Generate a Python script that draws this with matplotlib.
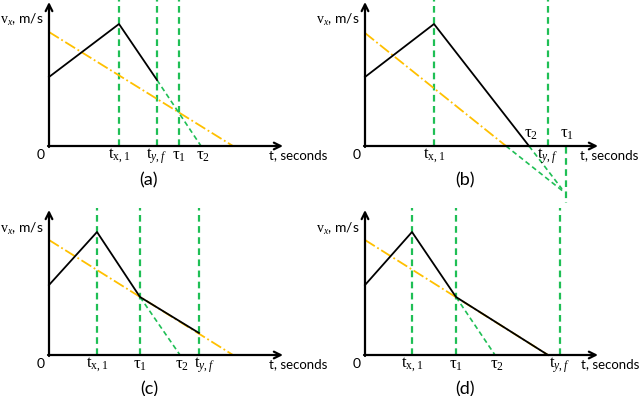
import matplotlib.pyplot as plt

plt.rcParams['font.family'] = ['Lato', 'DejaVu Sans']
plt.rcParams['mathtext.fontset'] = 'custom'
plt.rcParams['mathtext.rm'] = 'Liberation Serif'
plt.rcParams['mathtext.it'] = 'Liberation Serif:italic'
plt.rcParams['mathtext.bf'] = 'Liberation Serif:bold'

GREEN = '#1fbf55'
ORANGE = '#ffc000'

TX1 = r'$\mathrm{t}_{\mathrm{x},1}$'
TYF = r'$\mathrm{t}_{y,f}$'
TAU1 = r'$\mathrm{τ}_{1}$'
TAU2 = r'$\mathrm{τ}_{2}$'

# panel data, time and velocity in arbitrary units (origin at 0, 0)
a_black_t = [0, 7.0, 10.8]
a_black_v = [6.9, 12.2, 6.6]
a_green_t = [10.8, 15.2]
a_green_v = [6.6, 0]
a_orange_t = [0, 18.4]
a_orange_v = [11.4, 0]
a_vlines = [7.0, 10.8, 13.0]
a_ticks = [7.0, 10.8, 13.0, 15.4]
a_labels = [TX1, TYF, TAU1, TAU2]

b_black_t = [0, 6.9, 16.4]
b_black_v = [6.9, 12.2, 0]
b_green1_t = [14.1, 19.9]
b_green1_v = [0, -4.6]
b_green2_t = [16.4, 19.7]
b_green2_v = [0, -4.3]
b_orange_t = [0, 14.1]
b_orange_v = [11.3, 0]
b_vlines = [6.9, 18.3]
b_tau1_t = 20.1
b_tau1_v = [-0.1, -5.7]

c_black_t = [0, 4.8, 9.1, 15.0]
c_black_v = [7.0, 12.3, 5.8, 2.2]
c_green_t = [9.1, 13.1]
c_green_v = [5.8, 0]
c_orange_t = [0, 18.4]
c_orange_v = [11.5, 0]
c_vlines = [4.8, 9.1, 15.0]
c_ticks = [4.8, 9.1, 13.3, 15.6]
c_labels = [TX1, TAU1, TAU2, TYF]

d_black_t = [0, 4.7, 9.1, 18.3]
d_black_v = [7.0, 12.3, 5.8, 0]
d_green_t = [9.1, 13.0]
d_green_v = [5.8, 0]
d_orange_t = [0, 18.3]
d_orange_v = [11.5, 0]
d_vlines = [4.7, 9.1, 19.5]
d_ticks = [4.7, 9.1, 13.2, 19.5]
d_labels = [TX1, TAU1, TAU2, TYF]

fig = plt.figure(figsize=(6.4, 3.96), dpi=100)


def make_axes(left_px, top_px, ox, oy):
    # axes of 320x198 px, 1 unit = 10 px, origin at pixel (ox, oy)
    ax = fig.add_axes([left_px / 640, 1 - (top_px + 198) / 396, 320 / 640, 198 / 396])
    ax.set_xlim((left_px - ox) / 10, (left_px + 320 - ox) / 10)
    ax.set_ylim((oy - top_px - 198) / 10, (oy - top_px) / 10)
    ax.axis('off')
    return ax


def draw_frame(ax, xtip, ytip, name, tlab_x):
    ax.annotate('', xy=(xtip, 0), xytext=(-0.1, 0),
                arrowprops=dict(arrowstyle='->', color='black', lw=1.6,
                                shrinkA=0, shrinkB=0, mutation_scale=12),
                annotation_clip=False)
    ax.annotate('', xy=(0, ytip), xytext=(0, -0.1),
                arrowprops=dict(arrowstyle='->', color='black', lw=1.6,
                                shrinkA=0, shrinkB=0, mutation_scale=12),
                annotation_clip=False)
    ax.text(-0.8, -0.9, '0', ha='center', va='center', fontsize=10)
    ax.text(tlab_x, -0.9, 't, seconds', ha='left', va='center', fontsize=9.5)
    ax.text(-4.9, 12.6, r'$\mathrm{v}_{x}$' + ', m/s', ha='left', va='center', fontsize=10,
            clip_on=False)
    ax.text(10.0, -3.4, name, ha='center', va='center', fontsize=13)


def vlines(ax, xs, top):
    for x in xs:
        ax.plot([x, x], [0, top], color=GREEN, ls=(0, (3, 2)), lw=1.6, clip_on=False)


def ticklabels(ax, xs, labels, y=-1.0):
    for x, s in zip(xs, labels):
        ax.text(x, y, s, ha='center', va='center', fontsize=12)


# (a)
ax = make_axes(0, 0, 49, 146)
vlines(ax, a_vlines, 14.6)
ax.plot(a_orange_t, a_orange_v, color=ORANGE, ls='-.', lw=1.3)
ax.plot(a_green_t, a_green_v, color=GREEN, ls=(0, (3, 2)), lw=1.2)
ax.plot(a_black_t, a_black_v, color='black', lw=1.3)
draw_frame(ax, 23.4, 14.4, '(a)', 22.0)
ticklabels(ax, a_ticks, a_labels)

# (b)
ax = make_axes(320, 0, 365, 146)
vlines(ax, b_vlines, 14.6)
ax.plot([b_tau1_t, b_tau1_t], b_tau1_v, color=GREEN, ls=(0, (3, 2)), lw=1.6, clip_on=False)
ax.plot(b_orange_t, b_orange_v, color=ORANGE, ls='-.', lw=1.3)
ax.plot(b_green1_t, b_green1_v, color=GREEN, ls=(0, (3, 2)), lw=1.2, clip_on=False)
ax.plot(b_green2_t, b_green2_v, color=GREEN, ls=(0, (3, 2)), lw=1.2, clip_on=False)
ax.plot(b_black_t, b_black_v, color='black', lw=1.3)
draw_frame(ax, 23.3, 14.4, '(b)', 21.5)
ticklabels(ax, [6.9, 18.3], [TX1, TYF])
ticklabels(ax, [16.6, 20.2], [TAU2, TAU1], y=1.2)

# (c)
ax = make_axes(0, 198, 49, 355)
vlines(ax, c_vlines, 14.7)
ax.plot(c_orange_t, c_orange_v, color=ORANGE, ls='-.', lw=1.3)
ax.plot(c_green_t, c_green_v, color=GREEN, ls=(0, (3, 2)), lw=1.2)
ax.plot(c_black_t, c_black_v, color='black', lw=1.3)
draw_frame(ax, 23.4, 14.5, '(c)', 22.0)
ticklabels(ax, c_ticks, c_labels)

# (d)
ax = make_axes(320, 198, 365, 355)
vlines(ax, d_vlines, 14.7)
ax.plot(d_orange_t, d_orange_v, color=ORANGE, ls='-.', lw=1.3)
ax.plot(d_green_t, d_green_v, color=GREEN, ls=(0, (3, 2)), lw=1.2)
ax.plot(d_black_t, d_black_v, color='black', lw=1.3)
draw_frame(ax, 23.3, 14.5, '(d)', 21.6)
ticklabels(ax, d_ticks, d_labels)

fig.savefig('out.png', dpi=100)
